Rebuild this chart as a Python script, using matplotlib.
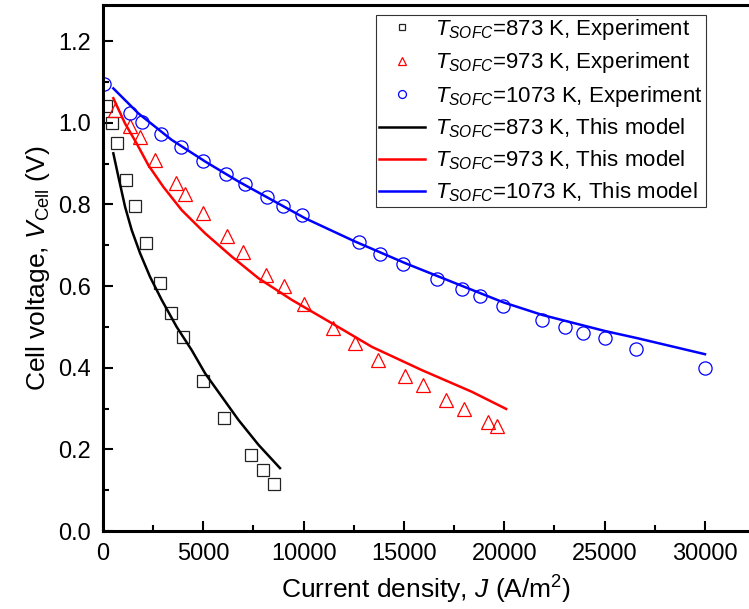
import numpy as np
import matplotlib
matplotlib.use("Agg")
import matplotlib.pyplot as plt
from matplotlib.ticker import MultipleLocator

plt.rcParams["font.family"] = ["Liberation Sans", "DejaVu Sans"]
plt.rcParams["mathtext.fontset"] = "custom"
plt.rcParams["mathtext.rm"] = "Liberation Sans"
plt.rcParams["mathtext.it"] = "Liberation Sans:italic"

j_873 = [150, 450, 680, 1150, 1600, 2140, 2840, 3410, 3970, 4970, 6030, 7390, 7960, 8540]
v_873 = [1.041, 1.000, 0.950, 0.860, 0.797, 0.706, 0.607, 0.535, 0.475, 0.367, 0.276, 0.185, 0.150, 0.114]

j_973 = [600, 1350, 1840, 2590, 3640, 4090, 5000, 6170, 6960, 8110, 9020, 10020,
         11480, 12560, 13720, 15050, 15960, 17100, 18010, 19210, 19630]
v_973 = [1.031, 0.992, 0.966, 0.909, 0.853, 0.825, 0.778, 0.722, 0.683, 0.627, 0.601, 0.556,
         0.496, 0.461, 0.420, 0.380, 0.358, 0.321, 0.299, 0.266, 0.257]

j_1073 = [50, 1350, 1930, 2880, 3870, 5000, 6130, 7080, 8190, 8990, 9910, 12760, 13810,
          14940, 16630, 17880, 18790, 19950, 21900, 23030, 23940, 25000, 26550, 30000]
v_1073 = [1.096, 1.023, 1.002, 0.972, 0.941, 0.905, 0.874, 0.851, 0.819, 0.797, 0.774, 0.707, 0.678,
          0.653, 0.616, 0.593, 0.576, 0.552, 0.517, 0.499, 0.486, 0.472, 0.445, 0.398]

# model curves
jm_873 = [515, 765, 1100, 1430, 1850, 2340, 2925, 3670, 4420, 5090, 5920, 6750, 7750, 8820]
vm_873 = [0.925, 0.868, 0.794, 0.737, 0.680, 0.623, 0.566, 0.500, 0.443, 0.386, 0.329, 0.272, 0.211, 0.154]

jm_973 = [515, 1100, 1680, 2260, 3005, 3920, 5090, 6420, 7750, 9410, 11400, 13400, 15890, 18380, 20090]
vm_973 = [1.060, 0.998, 0.949, 0.896, 0.843, 0.786, 0.729, 0.672, 0.619, 0.566, 0.509, 0.451, 0.394, 0.341, 0.299]

jm_1073 = [515, 1760, 3420, 5090, 6750, 8410, 10070, 12560, 15060, 17550, 19950, 21900, 25000, 26650, 30000]
vm_1073 = [1.084, 1.023, 0.958, 0.905, 0.856, 0.811, 0.766, 0.709, 0.656, 0.607, 0.560, 0.529, 0.490, 0.472, 0.433]

fig = plt.figure(figsize=(7.49, 6.09), dpi=100)
ax = fig.add_axes([103 / 749, 1 - 531 / 609, 1 - 103 / 749, (531 - 4.5) / 609])

ax.plot(j_873, v_873, "s", ms=8, mfc="none", mec="#222222", mew=0.9, ls="none",
        label="$T_{SOFC}$=873 K, Experiment")
ax.plot(j_973, v_973, "^", ms=10, mfc="none", mec="red", mew=0.9, ls="none",
        label="$T_{SOFC}$=973 K, Experiment")
ax.plot(j_1073, v_1073, "o", ms=9.5, mfc="none", mec="blue", mew=0.9, ls="none",
        label="$T_{SOFC}$=1073 K, Experiment")
ax.plot(jm_873, vm_873, "-", color="black", lw=1.8, label="$T_{SOFC}$=873 K, This model")
ax.plot(jm_973, vm_973, "-", color="red", lw=1.8, label="$T_{SOFC}$=973 K, This model")
ax.plot(jm_1073, vm_1073, "-", color="blue", lw=1.8, label="$T_{SOFC}$=1073 K, This model")

ax.set_xlim(0, 32193)
ax.set_ylim(0, 1.2895)
ax.xaxis.set_major_locator(MultipleLocator(5000))
ax.xaxis.set_minor_locator(MultipleLocator(2500))
ax.yaxis.set_major_locator(MultipleLocator(0.2))
ax.yaxis.set_minor_locator(MultipleLocator(0.1))
ax.yaxis.set_major_formatter(plt.FuncFormatter(lambda v, p: f"{v:.1f}"))
ax.tick_params(which="both", direction="in", labelsize=17, top=False, right=False)
ax.tick_params(which="major", length=7, width=1.5, pad=9)
ax.tick_params(which="minor", length=4, width=1.5)
for s in ["left", "bottom", "top"]:
    ax.spines[s].set_linewidth(2.2)
ax.spines["right"].set_visible(False)

ax.set_xlabel("Current density, $J$ (A/m$^2$)", fontsize=19, labelpad=6)
ax.set_ylabel("Cell voltage, $V_\\mathrm{Cell}$ (V)", fontsize=19, labelpad=4)

leg = ax.legend(loc="upper left", bbox_to_anchor=((376 - 103) / 646, 1 - 10 / 526),
                bbox_transform=ax.transAxes, fontsize=16, frameon=True, fancybox=False,
                markerscale=0.6, handlelength=2.1, handletextpad=0.45, borderpad=0.12,
                labelspacing=0.37, borderaxespad=0)
leg.get_frame().set_edgecolor("black")
leg.get_frame().set_linewidth(0.8)

fig.savefig("out.png", dpi=100)
